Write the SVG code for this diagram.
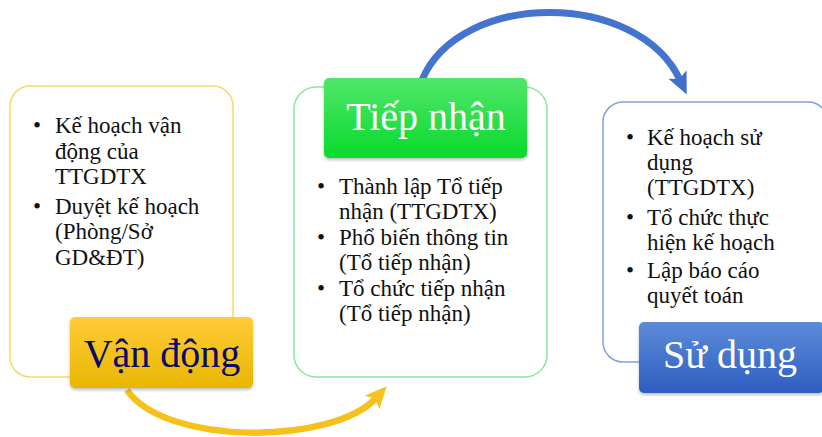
<svg xmlns="http://www.w3.org/2000/svg" width="822" height="437" viewBox="0 0 822 437">
<style>
.box{fill:#fff;stroke-width:1.5}
.txt{font-family:"Liberation Serif","Times New Roman",serif;font-size:23px;fill:#111}
.lbl{font-family:"Liberation Serif","Times New Roman",serif;font-size:40px;text-anchor:middle}
</style>
<defs>
<linearGradient id="gGold" x1="0" y1="0" x2="0" y2="1"><stop offset="0" stop-color="#FFCB3A"/><stop offset="1" stop-color="#E8B700"/></linearGradient>
<linearGradient id="gGreen" x1="0" y1="0" x2="0" y2="1"><stop offset="0" stop-color="#52E66A"/><stop offset="1" stop-color="#08DA2C"/></linearGradient>
<linearGradient id="gBlue" x1="0" y1="0" x2="0" y2="1"><stop offset="0" stop-color="#5D8BD8"/><stop offset="1" stop-color="#2D5EC0"/></linearGradient>
<marker id="arrY" markerUnits="userSpaceOnUse" markerWidth="26" markerHeight="26" viewBox="0 0 26 26" refX="6" refY="13" orient="auto"><path d="M0,3 L22,13 L0,23 L5,13 Z" fill="#F7C31E"/></marker>
<marker id="arrB" markerUnits="userSpaceOnUse" markerWidth="26" markerHeight="26" viewBox="0 0 26 26" refX="6" refY="13" orient="auto"><path d="M0,3 L22,13 L0,23 L5,13 Z" fill="#3F6FCB"/></marker>
<filter id="sh" x="-10%" y="-10%" width="120%" height="130%"><feDropShadow dx="0" dy="2" stdDeviation="1.5" flood-color="#000" flood-opacity="0.25"/></filter>
</defs>

<g id="connectors" fill="none">
<path d="M127,390 C165,446 333,445 376,398" stroke="#F5C11A" stroke-width="6.5" marker-end="url(#arrY)"/>
<path d="M422,80 C460,-10 638,-10 680,80" stroke="#4474CD" stroke-width="7" marker-end="url(#arrB)"/>
</g>

<g id="van-dong">
<rect class="box" x="10" y="86" width="223" height="291" rx="20" stroke="#FAD66B"/>
<text class="txt">
<tspan x="33" y="133">•</tspan><tspan x="55" y="133">Kế hoạch vận</tspan>
<tspan x="55" y="159">động của</tspan>
<tspan x="55" y="184">TTGDTX</tspan>
<tspan x="33" y="214">•</tspan><tspan x="55" y="214">Duyệt kế hoạch</tspan>
<tspan x="55" y="239">(Phòng/Sở</tspan>
<tspan x="55" y="265">GD&amp;ĐT)</tspan>
</text>
<rect x="70" y="317" width="183" height="71" rx="5" fill="url(#gGold)" filter="url(#sh)"/>
<text class="lbl" x="162" y="367" fill="#0A0A6A">Vận động</text>
</g>

<g id="tiep-nhan">
<rect class="box" x="294" y="87" width="253" height="290" rx="22" stroke="#88E99C"/>
<rect x="324" y="78" width="203" height="80" rx="5" fill="url(#gGreen)" filter="url(#sh)"/>
<text class="lbl" x="426" y="130" fill="#fff">Tiếp nhận</text>
<text class="txt">
<tspan x="317" y="194">•</tspan><tspan x="339" y="194">Thành lập Tổ tiếp</tspan>
<tspan x="339" y="219">nhận (TTGDTX)</tspan>
<tspan x="317" y="245">•</tspan><tspan x="339" y="245">Phổ biến thông tin</tspan>
<tspan x="339" y="270">(Tổ tiếp nhận)</tspan>
<tspan x="317" y="296">•</tspan><tspan x="339" y="296">Tổ chức tiếp nhận</tspan>
<tspan x="339" y="321">(Tổ tiếp nhận)</tspan>
</text>
</g>

<g id="su-dung">
<rect class="box" x="603" y="102" width="225" height="260" rx="20" stroke="#7FA2DC"/>
<text class="txt">
<tspan x="626" y="145">•</tspan><tspan x="647" y="145">Kế hoạch sử</tspan>
<tspan x="647" y="170">dụng</tspan>
<tspan x="647" y="195">(TTGDTX)</tspan>
<tspan x="626" y="225">•</tspan><tspan x="647" y="225">Tổ chức thực</tspan>
<tspan x="647" y="250">hiện kế hoạch</tspan>
<tspan x="626" y="278">•</tspan><tspan x="647" y="278">Lập báo cáo</tspan>
<tspan x="647" y="303">quyết toán</tspan>
</text>
<rect x="639" y="322" width="185" height="71" rx="5" fill="url(#gBlue)" filter="url(#sh)"/>
<text class="lbl" x="730" y="368" fill="#fff">Sử dụng</text>
</g>
</svg>
